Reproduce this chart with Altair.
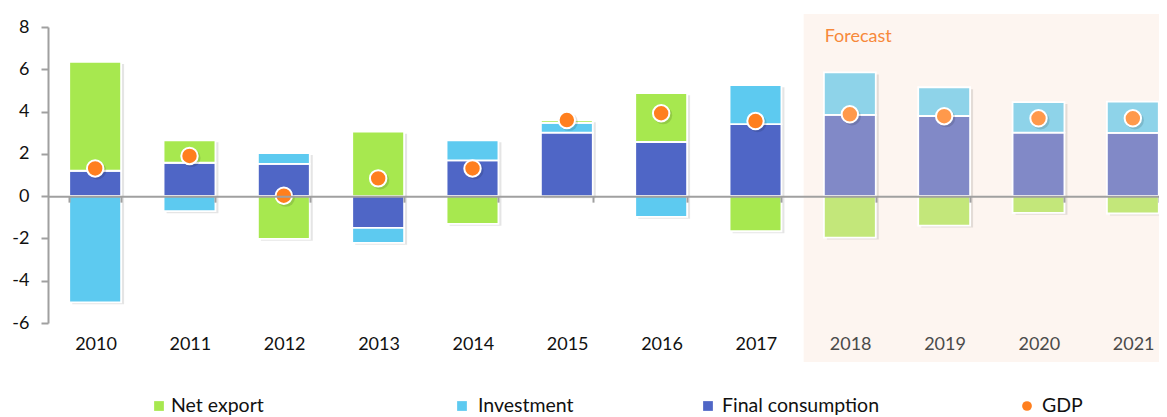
import altair as alt
import pandas as pd

years = ["2010", "2011", "2012", "2013", "2014", "2015", "2016", "2017", "2018", "2019", "2020", "2021"]
final_consumption = [1.2, 1.58, 1.53, -1.5, 1.69, 3.0, 2.56, 3.41, 3.84, 3.79, 3.0, 2.99]
investment = [-5.02, -0.71, 0.51, -0.71, 0.95, 0.47, -0.98, 1.84, 2.01, 1.36, 1.45, 1.48]
net_export = [5.15, 1.06, -2.02, 3.05, -1.31, 0.12, 2.31, -1.66, -1.96, -1.39, -0.79, -0.82]
gdp = [1.31, 1.9, 0.02, 0.84, 1.31, 3.6, 3.92, 3.55, 3.87, 3.78, 3.68, 3.68]
forecast_from = "2018"

series_names = ["Final consumption", "Investment", "Net export"]
series_values = [final_consumption, investment, net_export]
legend_names = ["Net export", "Investment", "Final consumption", "GDP"]

colors = {"Final consumption": "#4F66C6", "Investment": "#5DCAF0", "Net export": "#A7E84F", "GDP": "#FF7F1E"}
colors_fc = {"Final consumption": "#8189C7", "Investment": "#8ED3E9", "Net export": "#C3E77A", "GDP": "#FF994B"}

rows = []
for si, (name, vals) in enumerate(zip(series_names, series_values)):
    for y, v in zip(years, vals):
        fc = y >= forecast_from
        rows.append({"year": y, "series": name, "value": v, "order": si,
                     "key": name + (" F" if fc else "")})
bars_df = pd.DataFrame(rows)
gdp_df = pd.DataFrame({"year": years, "gdp": gdp,
                       "key": ["GDP F" if y >= forecast_from else "GDP" for y in years]})

fill_domain = []
fill_range = []
for n in ["Final consumption", "Investment", "Net export", "GDP"]:
    fill_domain += [n, n + " F"]
    fill_range += [colors[n], colors_fc[n]]

# layout
W = 1111
FULL = 1132
H = 296
step = FULL / len(years)
PAD_IN = 0.45
ymin, ymax = -6, 8
zero_px = H * ymax / (ymax - ymin)
FONT = "Lato"

xscale = alt.Scale(domain=years, range=[0, FULL], paddingInner=PAD_IN, paddingOuter=PAD_IN / 2)
yscale = alt.Scale(domain=[ymin, ymax], nice=False)

fi = years.index(forecast_from)
bg = alt.Chart(pd.DataFrame({"a": [0]})).mark_rect(color="#FDF5F0").encode(
    x=alt.value(fi * step + 1), x2=alt.value(FULL + 20),
    y=alt.value(-13), y2=alt.value(335))
fc_text = alt.Chart(pd.DataFrame({"t": ["Forecast"]})).mark_text(
    align="left", baseline="middle", fontSize=18, font=FONT, color="#F7893B").encode(
    x=alt.value(fi * step + 22), y=alt.value(10), text="t:N")

shadow = alt.Chart(bars_df).mark_bar(color="#000000", opacity=0.10, xOffset=3, yOffset=2).encode(
    x=alt.X("year:N", scale=xscale, sort=years),
    y=alt.Y("value:Q", scale=yscale, stack="zero"),
    order=alt.Order("order:Q"))

bars = alt.Chart(bars_df).mark_bar(stroke="white", strokeWidth=1.8).encode(
    x=alt.X("year:N", scale=xscale, sort=years, title=None,
            axis=alt.Axis(offset=-(H - zero_px), zindex=1, domainColor="#A0A0A0", domainWidth=2,
                          tickColor="#A0A0A0", tickWidth=2, tickSize=6, tickBand="extent",
                          labelOffset=step * PAD_IN / 2,
                          labelFontSize=18, labelFont=FONT, labelPadding=142, labelAngle=0,
                          labelColor=alt.ExprRef("datum.value >= '" + forecast_from + "' ? '#4a4a4a' : '#111111'"))),
    y=alt.Y("value:Q", scale=yscale, stack="zero", title=None,
            axis=alt.Axis(values=list(range(ymin, ymax + 1, 2)), grid=False, domainColor="#A0A0A0",
                          domainWidth=2, tickColor="#A0A0A0", tickWidth=2, tickSize=7,
                          labelExpr="toString(datum.value)",
                          labelFontSize=18, labelFont=FONT, labelColor="#111111", labelPadding=12)),
    fill=alt.Fill("key:N", scale=alt.Scale(domain=fill_domain, range=fill_range), legend=None),
    order=alt.Order("order:Q"))

pt_shadow = alt.Chart(gdp_df).mark_point(filled=True, shape="circle", size=330, color="#000000",
                                         opacity=0.12, xOffset=2, yOffset=2).encode(
    x=alt.X("year:N", scale=xscale, sort=years), y=alt.Y("gdp:Q", scale=yscale))
points = alt.Chart(gdp_df).mark_point(filled=True, shape="circle", size=270, stroke="white",
                                      strokeWidth=2, opacity=1).encode(
    x=alt.X("year:N", scale=xscale, sort=years), y=alt.Y("gdp:Q", scale=yscale),
    fill=alt.Fill("key:N", scale=alt.Scale(domain=fill_domain, range=fill_range), legend=None))

# manual legend (layout positions in pixels)
leg_sym_x = [111, 414, 660, 979]
leg_txt_x = [123, 430, 674, 994]
LEG_Y = 379
leg_df = pd.DataFrame({"name": legend_names, "sym": ["square", "square", "square", "circle"],
                       "sx": leg_sym_x, "tx": leg_txt_x})
leg_sym = alt.Chart(leg_df).mark_point(filled=True, size=95, opacity=1).encode(
    x=alt.X("sx:Q", scale=None), y=alt.value(LEG_Y),
    shape=alt.Shape("sym:N", scale=None),
    fill=alt.Fill("name:N", scale=alt.Scale(domain=list(colors.keys()), range=list(colors.values())), legend=None))
leg_txt = alt.Chart(leg_df).mark_text(align="left", baseline="alphabetic", fontSize=19.5, font=FONT,
                                      color="#111111").encode(
    x=alt.X("tx:Q", scale=None), y=alt.value(LEG_Y + 6), text="name:N")

chart = alt.layer(bg, fc_text, shadow, bars, pt_shadow, points, leg_sym, leg_txt).resolve_scale(
    fill="independent").properties(
    width=W, height=H, autosize=alt.AutoSizeParams(type="none"),
    padding={"left": 40, "top": 19, "right": 0, "bottom": 94}
).configure_view(stroke=None)

chart.save("out.html", embed_options={"renderer": "svg", "actions": False})
